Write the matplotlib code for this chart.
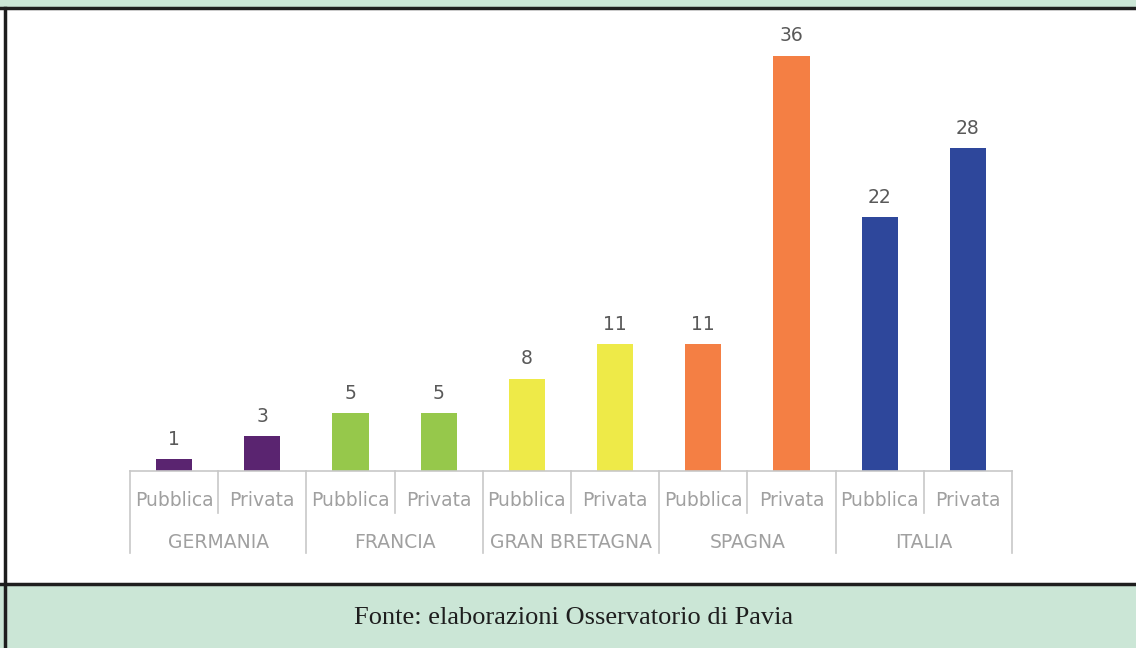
import matplotlib
matplotlib.use("Agg")
import matplotlib.pyplot as plt
from matplotlib.patches import Rectangle
from matplotlib.lines import Line2D
from matplotlib.transforms import blended_transform_factory

paesi = ["GERMANIA", "FRANCIA", "GRAN BRETAGNA", "SPAGNA", "ITALIA"]
tipi = ["Pubblica", "Privata"]
valori = [1, 3, 5, 5, 8, 11, 11, 36, 22, 28]
colori_paese = ["#5a2470", "#96c84b", "#eeea48", "#f47f44", "#2e479b"]
fonte = "Fonte: elaborazioni Osservatorio di Pavia"

W, H = 1136, 648
fig = plt.figure(figsize=(W / 100, H / 100), dpi=100)

# cornice: fasce verdi e linee nere
fig.patches.append(Rectangle((0, 1 - 8 / H), 1, 8 / H, transform=fig.transFigure,
                             facecolor="#cbe6d6", edgecolor="none", zorder=0))
fig.patches.append(Rectangle((0, 0), 1, 63 / H, transform=fig.transFigure,
                             facecolor="#cbe6d6", edgecolor="none", zorder=0))
fig.lines.append(Line2D([0, 1], [1 - 8 / H] * 2, transform=fig.transFigure,
                        color="#1e1e1e", lw=2.5))
fig.lines.append(Line2D([0, 1], [64 / H] * 2, transform=fig.transFigure,
                        color="#1e1e1e", lw=2.5))
fig.lines.append(Line2D([5 / W] * 2, [0, 1 - 8 / H], transform=fig.transFigure,
                        color="#1e1e1e", lw=2.5))

x0, x1 = 130, 1012
ytop, ybase = 9.5, 471
ax = fig.add_axes([x0 / W, (H - ybase) / H, (x1 - x0) / W, (ybase - ytop) / H])

xs = list(range(len(valori)))
colori = [colori_paese[i // 2] for i in xs]
ax.bar(xs, valori, width=0.41, color=colori)
ax.set_xlim(-0.5, len(valori) - 0.5)
ax.set_ylim(0, 40)

for x, v in zip(xs, valori):
    ax.text(x, v + 0.9, str(v), ha="center", va="bottom", fontsize=13.5,
            color="#595959", family="DejaVu Sans")

for s in ["top", "left", "right"]:
    ax.spines[s].set_visible(False)
ax.spines["bottom"].set_color("#c8c8c8")
ax.spines["bottom"].set_linewidth(1.2)
ax.set_xticks([])
ax.set_yticks([])

tr = blended_transform_factory(ax.transData, ax.transAxes)
hpx = ybase - ytop


def ypx(p):
    # pixel verticale -> frazione dell'asse
    return (ybase - p) / hpx


for x in xs:
    ax.text(x, ypx(501), tipi[x % 2], transform=tr, ha="center", va="center",
            fontsize=13.5, color="#a0a0a0", family="DejaVu Sans")
for g, nome in enumerate(paesi):
    ax.text(2 * g + 0.5, ypx(542), nome, transform=tr, ha="center", va="center",
            fontsize=13.5, color="#a0a0a0", family="DejaVu Sans")

# separatori
for g in range(len(paesi)):
    ax.plot([2 * g + 0.5] * 2, [0, ypx(513)], transform=tr, color="#c8c8c8",
            lw=1.2, clip_on=False)
for g in range(len(paesi) + 1):
    ax.plot([2 * g - 0.5] * 2, [0, ypx(553)], transform=tr, color="#c8c8c8",
            lw=1.2, clip_on=False)

fig.text(574 / W, 1 - 618 / H, fonte, ha="center", va="center", fontsize=19,
         family="Liberation Serif", color="#1e1e1e")

fig.savefig("out.png", dpi=100)
